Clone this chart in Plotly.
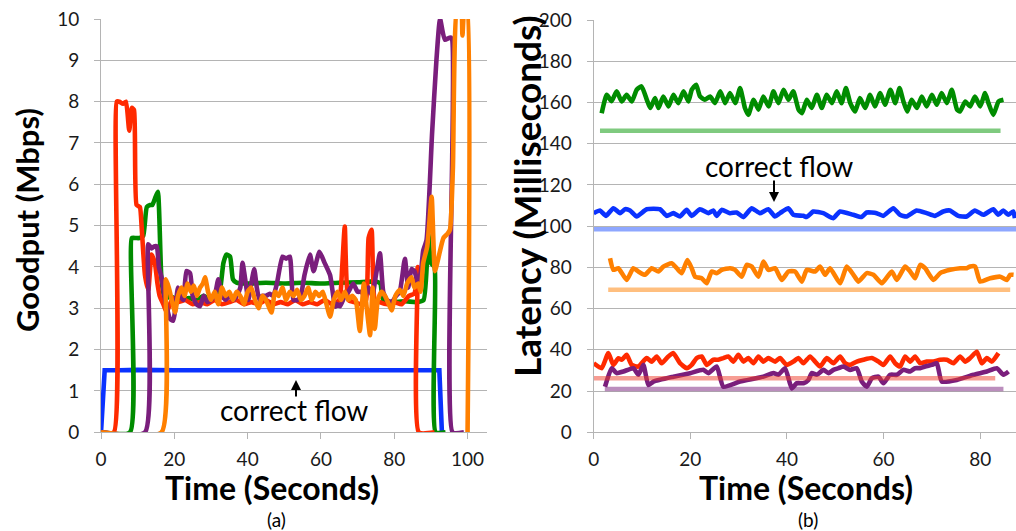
import plotly.graph_objects as go

# ---------------- (a) Goodput ----------------
blue_t = [0, 1, 5, 10, 20, 30, 40, 50, 60, 70, 80, 90, 92.3, 93]
blue_v = [0, 1.5, 1.5, 1.51, 1.5, 1.5, 1.51, 1.5, 1.5, 1.5, 1.51, 1.5, 1.5, 0]

red_t = [0, 3.5, 4.3, 5, 6, 6.8, 7.7, 8.4, 9.0, 9.7, 10.6, 11.1, 12.0, 12.9, 13.8, 14.7, 15.4, 16.0,
         17.0, 17.9, 18.8, 19.7, 21, 23, 25, 27, 29, 31, 33, 35, 37, 39, 41, 43, 45, 47, 49, 51, 53,
         55, 57, 59, 61, 63, 65, 65.8, 66.5, 67.5, 69, 71, 72.3, 73.0, 73.8, 74.7, 76, 78, 80, 82,
         84, 85.5, 86.4, 86.7, 91]
red_v = [0, 0, 8.0, 8.0, 7.95, 8.0, 7.3, 7.85, 7.8, 5.5, 5.45, 4.95, 3.8, 3.45, 4.3, 4.1, 3.6, 3.3,
         3.1, 2.9, 3.1, 3.25, 3.15, 3.2, 3.1, 3.15, 3.1, 3.2, 3.1, 3.15, 3.2, 3.1, 3.15, 3.1, 3.2,
         3.1, 3.15, 3.1, 3.2, 3.1, 3.15, 3.1, 3.2, 3.1, 3.2, 4.0, 4.98, 3.2, 3.15, 3.1, 3.2, 4.7,
         4.9, 3.2, 3.15, 3.1, 3.15, 3.1, 3.3, 3.36, 4.0, 0, 0]

green_t = [0, 7.9, 8.4, 9.5, 10.5, 11.5, 12.5, 13.4, 14.0, 14.7, 15.5, 16.5, 17.5, 18.5, 20, 22,
           24, 26, 28, 30, 32, 33.4, 34.2, 35.2, 36, 37, 40, 45, 50, 55, 60, 65, 70, 75, 76.2,
           77, 80, 83, 86, 88, 89.3, 90, 91, 91.3, 94]
green_v = [0, 0, 4.7, 4.7, 4.7, 4.75, 5.45, 5.5, 5.5, 5.65, 5.82, 3.7, 3.2, 3.3, 3.25, 3.2, 3.25,
           3.2, 3.3, 3.2, 3.25, 4.1, 4.3, 4.25, 3.7, 3.62, 3.6, 3.62, 3.6, 3.62, 3.6, 3.62, 3.63,
           3.65, 3.6, 3.2, 3.15, 3.17, 3.15, 3.2, 4.8, 4.1, 4.0, 0, 0]

purple_t = [0, 12, 12.9, 13.8, 14.5, 15.2, 15.8, 16.5, 17.3, 18, 18.8, 19.7, 20.3, 21, 21.7, 22.5,
            23.3, 24.3, 25, 26, 27, 28, 29, 30, 31, 32, 33, 34, 35, 36, 37, 38, 38.6, 39.5,
            40.2, 41, 41.8, 42.5, 43.2, 44, 45, 46, 47, 48, 49.5, 50.5, 51.5, 52.5, 53.5, 54.5,
            55.5, 57.0, 58, 59.6, 61, 62.5, 63.9, 64.5, 65.2, 66.5, 67.5, 68.8, 70, 71, 72,
            73, 74, 75, 76.1, 77, 78, 79.3, 80.5, 81.5, 82.9, 83.8, 84.7, 85.5, 86.5, 87.3,
            87.9, 88.8, 90.3, 91.5, 92.5, 93.8, 95.5, 95.9, 99]
purple_v = [0, 0, 4.55, 4.45, 4.5, 4.5, 4.0, 3.75, 3.3, 3.0, 2.75, 2.7, 3.0, 3.5, 3.3, 3.2, 3.9,
            3.85, 3.3, 3.1, 3.05, 3.3, 3.15, 3.2, 3.3, 3.7, 3.3, 3.2, 3.3, 3.2, 3.3, 3.5, 4.1,
            3.6, 3.2, 3.6, 3.95, 3.5, 3.2, 3.3, 3.3, 3.35, 3.3, 3.6, 4.25, 4.2, 4.25, 3.2, 3.2,
            3.3, 3.8, 4.3, 3.9, 4.37, 4.1, 3.8, 3.04, 3.1, 3.05, 3.3, 3.4, 3.6, 3.4, 3.4, 3.3,
            3.5, 3.3, 3.8, 4.33, 3.4, 3.2, 3.15, 3.3, 3.4, 4.2, 3.5, 3.95, 3.9, 3.6, 3.9, 4.4,
            4.65, 7.2, 9.0, 10.0, 9.5, 9.55, 0, 0]

orange_t = [0, 16.5, 17.7, 18.5, 19.3, 20.2, 21, 22, 22.8, 23.6, 24.5, 25.3, 26.2, 27, 27.8, 28.4,
            29.2, 30, 31, 32, 33, 34, 35, 36, 37, 38, 39, 40, 41, 42, 43, 44, 45, 46.5, 47.5,
            48.5, 49.5, 50.5, 51.5, 52.5, 53.5, 54.5, 55.5, 56.5, 57.5, 58.5, 59.5, 60.5, 61.5,
            62.5, 63.5, 64.5, 65.5, 66.5, 67.5, 68.5, 69.5, 70.6, 71.7, 72.5, 73.4, 74.1, 74.7,
            75.5, 76.5, 77.5, 78.5, 79.3, 80.3, 81.5, 82.5, 83.5, 84.7, 85.5, 86.5, 87.2, 87.9,
            89, 90.2, 91.1, 92, 93.4, 94.5, 95.2, 96, 97.2, 98.2, 98.6, 99.2, 99.8, 100]
orange_v = [0, 0, 3.7, 3.5, 3.2, 2.9, 3.3, 3.5, 3.3, 3.6, 3.4, 3.55, 3.3, 3.5, 3.6, 3.75, 3.4,
            3.2, 3.4, 3.1, 3.5, 3.3, 3.4, 3.2, 3.4, 3.3, 3.1, 3.4, 3.5, 3.2, 3.0, 3.3, 3.2, 2.9,
            3.4, 3.3, 3.5, 3.2, 3.4, 3.3, 3.45, 3.2, 3.3, 3.5, 3.2, 3.4, 3.3, 3.4, 3.1, 2.8,
            3.2, 3.4, 3.2, 3.4, 3.2, 3.3, 3.2, 2.45, 3.6, 3.0, 2.35, 3.5, 2.5, 3.2, 3.4, 3.3,
            3.1, 2.95, 3.3, 3.45, 3.3, 3.6, 3.75, 3.5, 3.6, 3.4, 4.1, 4.5, 5.7, 3.9, 4.2, 4.7,
            4.8, 4.9, 6.4, 10.3, 10.3, 9.6, 10.3, 10.3, 0]

# ---------------- (b) Latency ----------------
lg_t = [1.65, 2.7, 3.7, 4.75, 5.8, 6.8, 7.9, 8.9, 9.9, 11.0, 11.7, 12.7, 13.4, 14.4, 15.5, 16.5,
        17.5, 18.6, 19.6, 20.3, 21.2, 22.0, 23.0, 24.1, 25.1, 26.2, 27.2, 28.2, 29.3, 30.3, 31.3,
        32.0, 33.1, 34.1, 35.1, 36.2, 37.2, 38.2, 39.3, 40.3, 41.3, 42.4, 43.1, 44.1, 45.1, 46.2,
        47.2, 48.2, 49.3, 50.3, 51.3, 52.2, 53.1, 54.1, 55.1, 56.2, 57.2, 58.2, 59.3, 60.3, 61.4,
        62.4, 63.3, 64.1, 64.9, 65.8, 66.9, 67.9, 68.9, 70.0, 71.0, 72.0, 73.1, 74.1, 75.2, 75.8,
        76.9, 77.9, 78.9, 80.0, 81.0, 81.7, 82.7, 83.8, 84.8]
lg_v = [154.8, 163.7, 160.6, 165.4, 160.5, 163.7, 160.5, 166.2, 167.8, 161.3, 157.3, 162.1, 157.3,
        162.9, 158.1, 163.7, 159.7, 165.4, 160.5, 166.2, 168.6, 162.9, 161.3, 162.9, 159.7, 165.4,
        159.7, 164.6, 159.7, 167.0, 157.3, 154.0, 161.3, 156.5, 162.9, 158.1, 165.4, 159.7, 166.2,
        161.3, 165.4, 156.5, 154.8, 161.3, 157.3, 163.7, 157.3, 163.7, 159.7, 165.4, 159.7, 167.0,
        159.7, 155.6, 162.1, 157.3, 163.7, 158.1, 164.6, 158.9, 166.2, 159.7, 167.0, 160.5, 155.6,
        161.3, 157.3, 162.9, 158.1, 163.7, 158.9, 164.6, 159.7, 166.2, 156.5, 155.6, 160.5, 158.1,
        162.9, 158.1, 164.6, 159.7, 154.0, 160.5, 161.3]

lb_t = [0, 1.3, 2.55, 4.07, 5.45, 6.48, 7.52, 8.9, 10.97, 13.72, 15.1, 16.48, 17.86, 19.24, 20.28,
        22.0, 23.72, 24.76, 25.45, 26.48, 28.21, 29.59, 30.97, 32.69, 34.41, 36.14, 37.52, 38.55,
        40.28, 41.31, 43.38, 44.07, 45.45, 47.52, 49.59, 50.97, 53.72, 55.45, 56.48, 58.55, 59.93,
        62.0, 63.38, 64.76, 66.83, 68.9, 70.62, 72.34, 73.72, 75.45, 77.17, 78.9, 80.62, 82.69,
        83.72, 84.76, 85.79, 86.83, 87.17]
lb_v = [106.3, 107.6, 105.0, 108.7, 106.3, 108.2, 107.6, 104.7, 108.2, 108.2, 105.0, 106.3, 104.7,
        107.9, 105.0, 108.2, 106.3, 107.6, 105.0, 107.9, 106.3, 106.6, 104.4, 108.7, 106.3, 108.2,
        104.7, 106.3, 108.7, 105.5, 105.0, 104.4, 107.1, 106.3, 103.9, 107.1, 105.5, 104.4, 106.6,
        106.3, 105.0, 108.7, 105.5, 104.7, 107.6, 106.3, 105.0, 107.1, 107.6, 105.0, 104.7, 107.6,
        105.5, 108.2, 105.5, 107.6, 105.5, 107.1, 103.9]

lo_t = [3.38, 4.07, 5.1, 6.83, 8.2, 9.24, 10.62, 12.0, 13.38, 14.42, 16.14, 17.18, 18.21, 19.39,
        20.28, 20.97, 22.35, 23.39, 24.42, 25.46, 26.5, 28.22, 29.26, 30.64, 31.67, 32.71, 34.09,
        35.12, 36.16, 37.54, 38.92, 40.3, 41.68, 43.06, 44.1, 45.82, 46.85, 47.89, 48.92, 50.99,
        52.37, 53.76, 54.79, 56.51, 57.89, 59.62, 61.69, 62.73, 64.45, 65.49, 66.52, 67.56, 68.59,
        70.32, 71.7, 73.77, 75.84, 77.22, 77.91, 78.94, 79.98, 82.05, 84.12, 85.5, 86.2, 86.9]
lo_v = [84.4, 78.8, 79.6, 73.9, 79.6, 78.0, 76.4, 79.6, 78.0, 80.4, 82.0, 79.6, 77.2, 83.6, 79.6,
        75.5, 74.7, 72.3, 78.0, 77.2, 78.8, 79.6, 78.8, 75.5, 81.2, 80.4, 75.5, 82.8, 78.8, 79.6,
        73.9, 78.0, 78.0, 73.1, 78.8, 78.0, 80.4, 76.4, 79.6, 72.3, 80.4, 76.4, 73.1, 77.2, 76.4,
        72.3, 78.0, 73.9, 80.4, 78.0, 74.7, 81.2, 79.6, 73.9, 77.2, 78.8, 79.6, 79.6, 80.4, 80.4,
        73.1, 74.7, 75.5, 73.9, 76.4, 76.4]

lr_t = [0, 1.65, 3.03, 4.07, 5.1, 5.79, 6.83, 7.86, 9.24, 10.97, 12.0, 13.04, 14.07, 15.45, 16.49,
        17.87, 19.25, 20.28, 21.32, 22.35, 23.39, 24.77, 25.8, 26.84, 27.87, 28.91, 29.94, 30.98,
        32.01, 33.05, 34.09, 35.12, 36.16, 37.54, 38.57, 39.95, 41.33, 42.37, 43.4, 44.78, 45.82,
        46.85, 48.23, 49.61, 50.99, 52.03, 53.07, 54.45, 55.83, 57.55, 58.93, 59.97, 61.35, 62.38,
        63.42, 64.45, 65.49, 66.52, 67.56, 68.94, 70.32, 71.7, 73.08, 74.46, 75.84, 76.87, 77.91,
        79.29, 80.32, 81.36, 82.39, 83.77]
lr_v = [33.5, 31.1, 38.4, 32.7, 35.9, 35.2, 37.6, 32.7, 31.9, 36.0, 34.3, 36.8, 33.5, 36.8, 38.4,
        33.5, 31.1, 32.7, 36.0, 36.8, 32.7, 35.2, 35.2, 36.0, 36.8, 34.3, 37.6, 34.3, 36.0, 33.5,
        36.8, 34.3, 36.0, 34.3, 36.0, 32.7, 34.3, 36.0, 33.5, 36.8, 34.3, 31.9, 36.0, 33.5, 36.8,
        33.5, 32.7, 34.3, 35.2, 36.0, 34.3, 32.7, 36.8, 33.5, 31.9, 36.8, 34.3, 36.8, 33.5, 34.3,
        34.3, 35.2, 35.2, 33.5, 36.8, 34.3, 36.0, 39.1, 33.5, 36.0, 34.3, 38.4]

lp_t = [2.34, 3.72, 4.75, 6.14, 8.21, 9.24, 10.28, 11.31, 12.35, 16.49, 19.94, 22.7, 23.73, 25.46,
        26.84, 30.29, 35.12, 37.19, 38.23, 39.61, 40.99, 42.02, 43.4, 44.44, 45.13, 46.16, 47.54,
        48.58, 49.61, 50.65, 51.68, 53.07, 54.45, 55.48, 56.52, 57.55, 58.93, 59.97, 61.35, 62.73,
        64.11, 65.49, 66.52, 67.56, 68.59, 69.97, 71.01, 72.04, 75.15, 78.6, 81.36, 83.43, 84.81,
        85.85]
lp_v = [22.1, 31.1, 28.7, 29.5, 31.1, 27.9, 32.7, 22.9, 24.6, 27.0, 28.7, 30.3, 28.7, 31.9, 22.1,
        24.6, 27.0, 28.7, 27.9, 31.1, 21.3, 23.8, 23.8, 25.4, 28.7, 27.9, 30.3, 28.7, 30.3, 31.1,
        31.9, 30.3, 31.1, 24.6, 22.1, 26.2, 27.0, 23.8, 27.9, 27.9, 30.3, 29.5, 31.1, 31.1, 31.9,
        32.7, 33.5, 24.6, 25.4, 27.9, 29.5, 31.1, 27.9, 29.5]

# baselines (ideal latency): [start time, end time], value
base_g_t, base_g_v = [1.3, 84.2], [146.3, 146.3]
base_b_t, base_b_v = [0, 88], [98.5, 98.5]
base_o_t, base_o_v = [3.0, 86.2], [69.1, 69.1]
base_r_t, base_r_v = [0, 83.1], [26.2, 26.2]
base_p_t, base_p_v = [2.3, 84.8], [21.0, 21.0]

BLUE = "#0a32ff"
RED = "#ff2a00"
GREEN = "#008c00"
PURPLE = "#7a1e7c"
ORANGE = "#ff8000"

fig = go.Figure()
W = 4.6

def line(x, y, color, xa, ya, width=W, smooth=True):
    ln = dict(color=color, width=width)
    if smooth:
        ln.update(shape="spline", smoothing=0.5)
    fig.add_trace(go.Scatter(x=x, y=y, mode="lines", line=ln,
                             xaxis=xa, yaxis=ya, showlegend=False, hoverinfo="skip"))

line(blue_t, blue_v, BLUE, "x", "y", smooth=False)
line(green_t, green_v, GREEN, "x", "y")
line(red_t, red_v, RED, "x", "y")
line(purple_t, purple_v, PURPLE, "x", "y")
line(orange_t, orange_v, ORANGE, "x", "y")

line(lg_t, lg_v, GREEN, "x2", "y2")
line(lb_t, lb_v, BLUE, "x2", "y2")
line(lo_t, lo_v, ORANGE, "x2", "y2")
line(lr_t, lr_v, RED, "x2", "y2")
line(lp_t, lp_v, PURPLE, "x2", "y2")

line(base_g_t, base_g_v, "rgba(0,150,0,0.5)", "x2", "y2", 4.5, False)
line(base_b_t, base_b_v, "rgba(30,80,255,0.5)", "x2", "y2", 4.5, False)
line(base_o_t, base_o_v, "rgba(255,128,0,0.5)", "x2", "y2", 4.5, False)
line(base_r_t, base_r_v, "rgba(240,60,40,0.5)", "x2", "y2", 4.5, False)
line(base_p_t, base_p_v, "rgba(120,30,124,0.5)", "x2", "y2", 4.5, False)

FONT = "Lato"
GRID = "#b4b4b4"
tickfont = dict(family=FONT, size=19, color="#1a1a1a")

H = 531.0
Wd = 1016.0
def px(x):
    return x / Wd
def py(y):
    return 1 - y / H

y_dom = [py(432.3), py(19)]
y2_dom = [py(432.3), py(20)]

common_x = dict(showgrid=False, showline=True, linecolor=GRID, linewidth=1, ticks="outside",
                ticklen=6, tickcolor=GRID, tickfont=tickfont, zeroline=False, dtick=20,
                tick0=0, ticklabelstandoff=4, automargin=False)
common_y = dict(showgrid=True, gridcolor=GRID, gridwidth=1, showline=True, linecolor=GRID,
                linewidth=1, ticks="outside", ticklen=6, tickcolor=GRID, tickfont=tickfont,
                zeroline=False, ticklabelstandoff=11, automargin=False)

fig.update_layout(
    width=1016, height=531,
    margin=dict(l=0, r=0, t=0, b=0, autoexpand=False),
    paper_bgcolor="white", plot_bgcolor="white",
    xaxis=dict(domain=[px(101), px(487)], range=[0, 105.3], anchor="y", **common_x),
    yaxis=dict(domain=y_dom, range=[0, 10], dtick=1, anchor="x", **common_y),
    xaxis2=dict(domain=[px(593.7), 1.0], range=[0, 87.4], anchor="y2", **common_x),
    yaxis2=dict(domain=y2_dom, range=[0, 200], dtick=20, anchor="x2", **common_y),
)

def text(x, y, s, size, bold=False, angle=0):
    fig.add_annotation(x=px(x), y=py(y), xref="paper", yref="paper", text=(f"<b>{s}</b>" if bold else s),
                       showarrow=False, xanchor="center", yanchor="middle", textangle=angle,
                       font=dict(family=FONT, size=size, color="black"))

text(271.7, 487.5, "Time (Seconds)", 32, bold=True)
text(805.5, 487.5, "Time (Seconds)", 32, bold=True)
text(276, 519.5, "(a)", 19)
text(808, 519.5, "(b)", 19)
text(27, 220, "Goodput (Mbps)", 31, bold=True, angle=-90)
text(526, 196, "Latency (Milliseconds)", 37, bold=True, angle=-90)
text(293.8, 410, "correct flow", 28)
text(779, 166, "correct flow", 28)

fig.add_annotation(x=px(296), y=py(380), xref="paper", yref="paper", ax=0, ay=18,
                   showarrow=True, arrowhead=2, arrowsize=1, arrowwidth=2, arrowcolor="black", text="")
fig.add_annotation(x=px(774), y=py(202), xref="paper", yref="paper", ax=0, ay=-23,
                   showarrow=True, arrowhead=2, arrowsize=1, arrowwidth=2, arrowcolor="black", text="")

fig.write_html("out.html", config={"displayModeBar": False},
               post_script="document.body.style.margin='0';document.body.style.overflow='hidden';")
